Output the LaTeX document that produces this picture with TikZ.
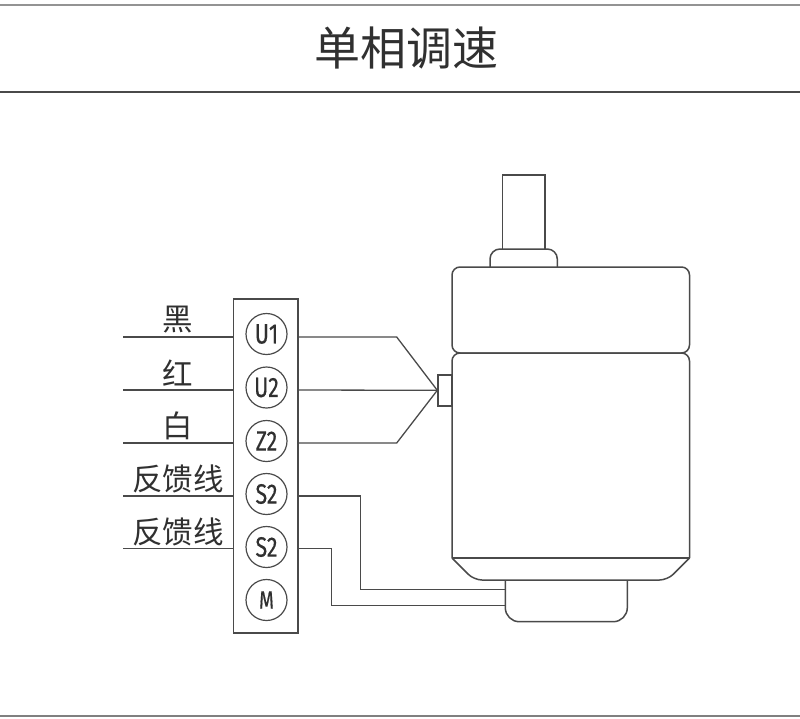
\documentclass[tikz,border=0pt]{standalone}
\usepackage{fontspec}
\newfontfamily\cnfont{Noto Sans CJK SC}
\newfontfamily\termfont[FakeStretch=0.76,FakeBold=0.5]{Fira Sans}
\usepackage{tikz}
\usetikzlibrary{calc}

\definecolor{inkgray}{HTML}{4A4A4A}
\definecolor{textgray}{HTML}{303030}

\tikzset{
  wire/.style={draw=inkgray,line width=1.3pt,line join=miter},
  body/.style={draw=inkgray,line width=1.5pt},
  strip/.style={draw=inkgray,line width=1.4pt,minimum width=64.5pt,minimum height=334pt,inner sep=0pt},
  term/.style={circle,draw=inkgray,line width=1.2pt,minimum size=41pt,inner sep=0pt,text=textgray,font=\termfont\fontsize{28}{30}\selectfont},
  plug/.style={draw=inkgray,line width=1.4pt,minimum width=14pt,minimum height=31pt,inner sep=0pt},
  wlabel/.style={text=textgray,inner sep=0pt,font=\cnfont\fontsize{30.5}{33}\selectfont},
}

\begin{document}
\begin{tikzpicture}[x=1pt,y=-1pt]
  \useasboundingbox (0,0) rectangle (800,718);

  % header and footer rules
  \coordinate (topL) at (0,5);
  \coordinate (topR) at (800,5);
  \coordinate (headL) at (0,92);
  \coordinate (headR) at (800,92);
  \coordinate (footL) at (0,716);
  \coordinate (footR) at (800,716);
  \draw[line width=2.6pt,draw=gray!85] (topL) -- (topR);
  \draw[line width=1.5pt,draw=inkgray] (headL) -- (headR);
  \draw[line width=2pt,draw=gray] (footL) -- (footR);
  \node[text=textgray,inner sep=0pt,font=\cnfont\fontsize{46}{50}\selectfont] (title) at (406,48) {单相调速};

  % terminal strip
  \node[strip] (box) at (265.7,466) {};
  \node[term] (U1) at (266.5,334) {U1};
  \node[term] (U2) at (266.5,387.5) {U2};
  \node[term] (Z2) at (266.5,441) {Z2};
  \node[term] (S2a) at (266.5,494) {S2};
  \node[term] (S2b) at (266.5,547) {S2};
  \node[term] (M) at (266.5,600) {\fontsize{25}{27}\selectfont M};

  % incoming wires with colour labels
  \foreach \nm/\yy/\txt in {blk/337/黑,red/390/红,wht/443/白,fba/496/反馈线,fbb/548.5/反馈线} {
    \coordinate (\nm In) at (123,\yy);
    \draw[wire] (\nm In) -- (\nm In -| box.west);
    \node[wlabel] (\nm Label) at (178,\yy-17) {\txt};
  }

  % motor: shaft, collar, gearbox, body
  \draw[body] (502.3,249) -- (502.3,175) -- (545,175) -- (545,249);
  \draw[body,rounded corners=10pt] (490,267) -- (490,249) -- (557.3,249) -- (557.3,267);
  \draw[body,rounded corners=8pt] (452,267) rectangle (689.5,353);
  \draw[body,rounded corners=8pt] (452,558) -- (452,353) -- (689.5,353) -- (689.5,558);
  \draw[body] (452,558) -- (689.5,558);
  \draw[body,rounded corners=8pt] (452,558) -- (474,580) -- (667.5,580) -- (689.5,558);
  \draw[body,rounded corners=14pt] (505.3,580) -- (505.3,621.7) -- (627.3,621.7) -- (627.3,580);
  \node[plug] (plug) at (445,390.3) {};

  % wires to the motor plug
  \coordinate (bendU) at (396.7,337);
  \coordinate (bendZ) at (396.7,443);
  \draw[wire] (blkIn -| box.east) -- (bendU) -- (plug.west);
  \draw[wire] (redIn -| box.east) -- (plug.west);
  \draw[wire] (whtIn -| box.east) -- (bendZ) -- (plug.west);

  % feedback wires to the rear cover
  \coordinate (fbaEnd) at (505.3,589.7);
  \coordinate (fbbEnd) at (505.3,605.7);
  \draw[wire] (fbaIn -| box.east) -- (360.7,496) -- (360.7,589.7) -- (fbaEnd);
  \draw[wire] (fbbIn -| box.east) -- (331.7,548.5) -- (331.7,605.7) -- (fbbEnd);
\end{tikzpicture}
\end{document}
